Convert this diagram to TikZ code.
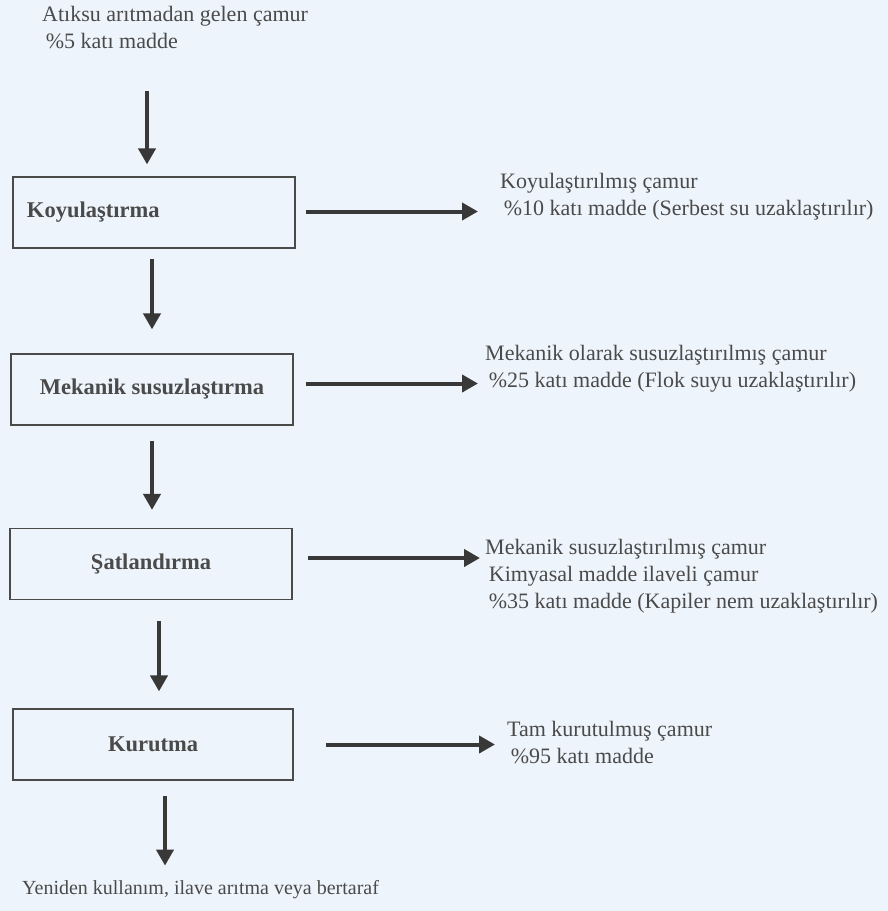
\documentclass[tikz,border=0pt]{standalone}
\usepackage{fontspec}
\setmainfont{Liberation Serif}
\usetikzlibrary{arrows.meta,positioning}

\definecolor{paper}{HTML}{EEF4FB}
\definecolor{ink}{HTML}{4A4A4A}
\definecolor{shaft}{HTML}{383838}

\tikzset{
	stage/.style={draw=ink, line width=1.2pt, rectangle, minimum width=282pt,
		minimum height=71pt, font=\fontsize{22.5}{26}\selectfont\bfseries, text=ink},
	note/.style={anchor=west, inner sep=0pt, align=left, text=ink,
		font=\fontsize{22}{27}\selectfont},
	flow/.style={draw=shaft, line width=4pt, -{Triangle[length=16pt,width=17pt]}}
}

\begin{document}
\begin{tikzpicture}[x=1pt,y=-1pt]
	\fill[paper] (0,0) rectangle (888,911);
	\useasboundingbox (0,0) rectangle (888,911);
	
	% stages of sludge treatment
	\node[stage, text width=254pt, align=left] (kalin) at (154,212.5) {Koyulaştırma};
	\node[stage] (mekanik) at (152,389.5) {Mekanik susuzlaştırma};
	\node[stage] (sart) at (151,564) {Şatlandırma};
	\node[stage, minimum width=280pt] (kuru) at (153,744.5) {Kurutma};
	
	% input and output texts
	\node[note] (giris) at (42,28) {Atıksu arıtmadan gelen çamur\\ \,\%5 katı madde};
	\node[note] (cikis1) at (500,197) {Koyulaştırılmış çamur\\ \,\%10 katı madde (Serbest su uzaklaştırılır)};
	\node[note] (cikis2) at (485,369) {Mekanik olarak susuzlaştırılmış çamur\\ \,\%25 katı madde (Flok suyu uzaklaştırılır)};
	\node[note] (cikis3) at (485,576) {Mekanik susuzlaştırılmış çamur\\ \,Kimyasal madde ilaveli çamur\\ \,\%35 katı madde (Kapiler nem uzaklaştırılır)};
	\node[note] (cikis4) at (507,743) {Tam kurutulmuş çamur\\ \,\%95 katı madde};
	\node[note, font=\fontsize{20}{24}\selectfont] (son) at (22,890) {Yeniden kullanım, ilave arıtma veya bertaraf};
	
	% vertical flow
	\draw[flow] ([xshift=-7pt,yshift=85pt]kalin.north) -- ([xshift=-7pt,yshift=12pt]kalin.north);
	\draw[flow] ([xshift=-2pt,yshift=-10pt]kalin.south) -- ([xshift=0pt,yshift=24pt]mekanik.north);
	\draw[flow] ([xshift=0pt,yshift=-15pt]mekanik.south) -- ([xshift=1pt,yshift=18pt]sart.north);
	\draw[flow] ([xshift=8pt,yshift=-21pt]sart.south) -- ([xshift=6pt,yshift=17pt]kuru.north);
	\draw[flow] ([xshift=12pt,yshift=-15pt]kuru.south) -- ([xshift=12pt,yshift=-85pt]kuru.south);
	
	% side outputs
	\draw[flow] ([xshift=10pt,yshift=1pt]kalin.east) -- ([xshift=-22pt,yshift=1pt]kalin.east -| cikis1.west);
	\draw[flow] ([xshift=12pt,yshift=6pt]mekanik.east) -- ([xshift=-7pt,yshift=6pt]mekanik.east -| cikis2.west);
	\draw[flow] ([xshift=15pt,yshift=6pt]sart.east) -- ([xshift=-5pt,yshift=6pt]sart.east -| cikis3.west);
	\draw[flow] ([xshift=32pt]kuru.east) -- ([xshift=-12pt]kuru.east -| cikis4.west);
\end{tikzpicture}
\end{document}
